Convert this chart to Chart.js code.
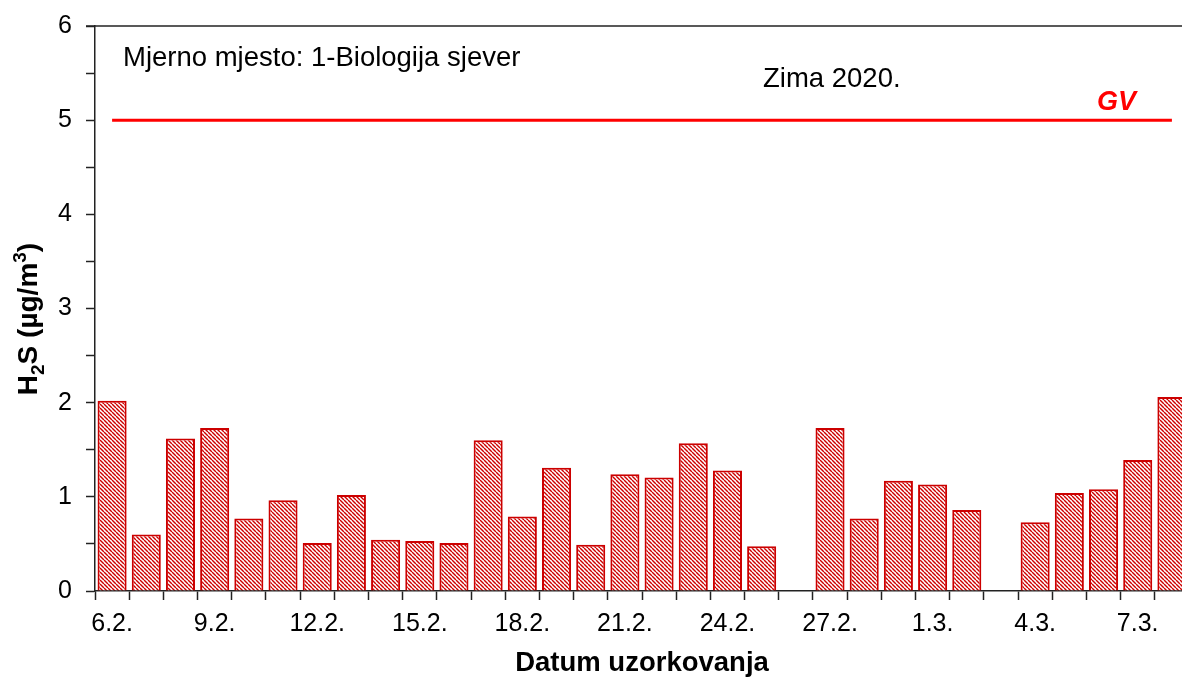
<!DOCTYPE html>
<html>
<head>
<meta charset="utf-8">
<script src="https://cdn.jsdelivr.net/npm/chart.js@4"></script>
<style>
  html, body { margin: 0; padding: 0; background: #fff; overflow: hidden; }
  #wrap { width: 1200px; height: 677px; }
</style>
</head>
<body>
<div id="wrap"><canvas id="h2sChart" width="1200" height="677"></canvas></div>
<script>
// dates of sampling, winter 2020
const dates = ['6.2.','7.2.','8.2.','9.2.','10.2.','11.2.','12.2.','13.2.','14.2.','15.2.',
               '16.2.','17.2.','18.2.','19.2.','20.2.','21.2.','22.2.','23.2.','24.2.','25.2.',
               '26.2.','27.2.','28.2.','29.2.','1.3.','2.3.','3.3.','4.3.','5.3.','6.3.','7.3.','8.3.'];
// H2S concentration in µg/m3 (null = no measurement)
const h2sValues = [2.02, 0.60, 1.62, 1.73, 0.77, 0.965, 0.51, 1.02, 0.545, 0.53,
                   0.51, 1.60, 0.79, 1.31, 0.49, 1.24, 1.205, 1.57, 1.28, 0.475,
                   null, 1.73, 0.77, 1.17, 1.13, 0.86, null, 0.73, 1.04, 1.08, 1.39, 2.06];
const gvLimit = 5;
const yMin = 0, yMax = 6;
const stationText = 'Mjerno mjesto: 1-Biologija sjever';
const seasonText = 'Zima 2020.';

const FONT = '"Liberation Sans", Arial, sans-serif';
const canvas = document.querySelector('#h2sChart');
const ctx = canvas.getContext('2d');

function makeHatch() {
    const p = 4;
    const c = document.createElement('canvas');
    c.width = p; c.height = p;
    const g = c.getContext('2d');
    g.fillStyle = '#ffffff';
    g.fillRect(0, 0, p, p);
    g.strokeStyle = '#cc0000';
    g.lineWidth = 1.4;
    for (const k of [-p, 0, p]) {
        g.beginPath();
        g.moveTo(k, 0);
        g.lineTo(k + p, p);
        g.stroke();
    }
    return ctx.createPattern(c, 'repeat');
}

// draws text pieces with sub/superscripts along current x direction
function drawRuns(g, runs, x, y) {
    let cx = x;
    runs.forEach(r => {
        g.font = r.font;
        g.fillText(r.t, cx, y + (r.dy || 0));
        cx += g.measureText(r.t).width;
    });
}
function runsWidth(g, runs) {
    let w = 0;
    runs.forEach(r => { g.font = r.font; w += g.measureText(r.t).width; });
    return w;
}

const extrasPlugin = {
    id: 'extras',
    afterDraw(chart) {
        const g = chart.ctx;
        const a = chart.chartArea;
        g.save();
        // top frame line
        g.strokeStyle = '#222';
        g.lineWidth = 1.5;
        g.beginPath();
        g.moveTo(a.left - 9, a.top);
        g.lineTo(a.right, a.top);
        g.stroke();

        g.fillStyle = '#000';
        g.textBaseline = 'alphabetic';
        g.textAlign = 'left';
        g.font = '27.5px ' + FONT;
        g.fillText(stationText, a.left + 28, 66);
        g.fillText(seasonText, 763, 87);

        g.fillStyle = '#ff0000';
        g.font = 'italic bold 27px ' + FONT;
        g.fillText('GV', 1097, 110);

        // x title
        g.fillStyle = '#000';
        g.font = 'bold 27.5px ' + FONT;
        g.textAlign = 'center';
        g.fillText('Datum uzorkovanja', 642, 671);

        // y title with subscript / superscript
        const big = 'bold 28px ' + FONT;
        const small = 'bold 19px ' + FONT;
        const runs = [
            { t: 'H', font: big },
            { t: '2', font: small, dy: 7 },
            { t: 'S (µg/m', font: big },
            { t: '3', font: small, dy: -11 },
            { t: ')', font: big }
        ];
        g.textAlign = 'left';
        g.translate(37, 319);
        g.rotate(-Math.PI / 2);
        const w = runsWidth(g, runs);
        drawRuns(g, runs, -w / 2, 0);
        g.restore();
    }
};

const hatch = makeHatch();

new Chart(ctx, {
    data: {
        labels: dates,
        datasets: [
            {
                type: 'line',
                label: 'GV',
                data: dates.map(() => gvLimit),
                borderColor: '#ff0000',
                borderWidth: 3,
                pointRadius: 0,
                fill: false
            },
            {
                type: 'bar',
                label: 'H2S',
                data: h2sValues,
                backgroundColor: hatch,
                borderColor: '#cc0000',
                borderWidth: 2,
                barPercentage: 0.85,
                categoryPercentage: 1.0
            }
        ]
    },
    options: {
        responsive: false,
        animation: false,
        events: [],
        layout: { padding: { top: 26, right: 11, left: 0, bottom: 0 } },
        plugins: { legend: { display: false }, tooltip: { enabled: false } },
        scales: {
            x: {
                offset: true,
                grid: { offset: true, drawOnChartArea: false, drawTicks: true, tickLength: 9, color: '#222', tickWidth: 1.5 },
                border: { color: '#222', width: 1.5 },
                ticks: {
                    autoSkip: false,
                    maxRotation: 0,
                    minRotation: 0,
                    padding: 9,
                    color: '#000',
                    font: { family: FONT, size: 25 },
                    callback: function (v, i) { return i % 3 === 0 ? dates[i] : ''; }
                },
                afterFit(scale) { scale.height = 86; scale.paddingLeft = 0; scale.paddingRight = 0; }
            },
            y: {
                min: yMin,
                max: yMax,
                grid: { drawOnChartArea: false, drawTicks: true, tickLength: 9, color: '#222', tickWidth: 1.5 },
                border: { color: '#222', width: 1.5 },
                ticks: {
                    stepSize: 0.5,
                    padding: 14,
                    color: '#000',
                    font: { family: FONT, size: 25 },
                    callback: v => (Number.isInteger(v) ? String(v) : '')
                },
                afterFit(scale) { scale.width = 95; scale.paddingTop = 0; scale.paddingBottom = 0; }
            }
        }
    },
    plugins: [extrasPlugin]
});
</script>
</body>
</html>
